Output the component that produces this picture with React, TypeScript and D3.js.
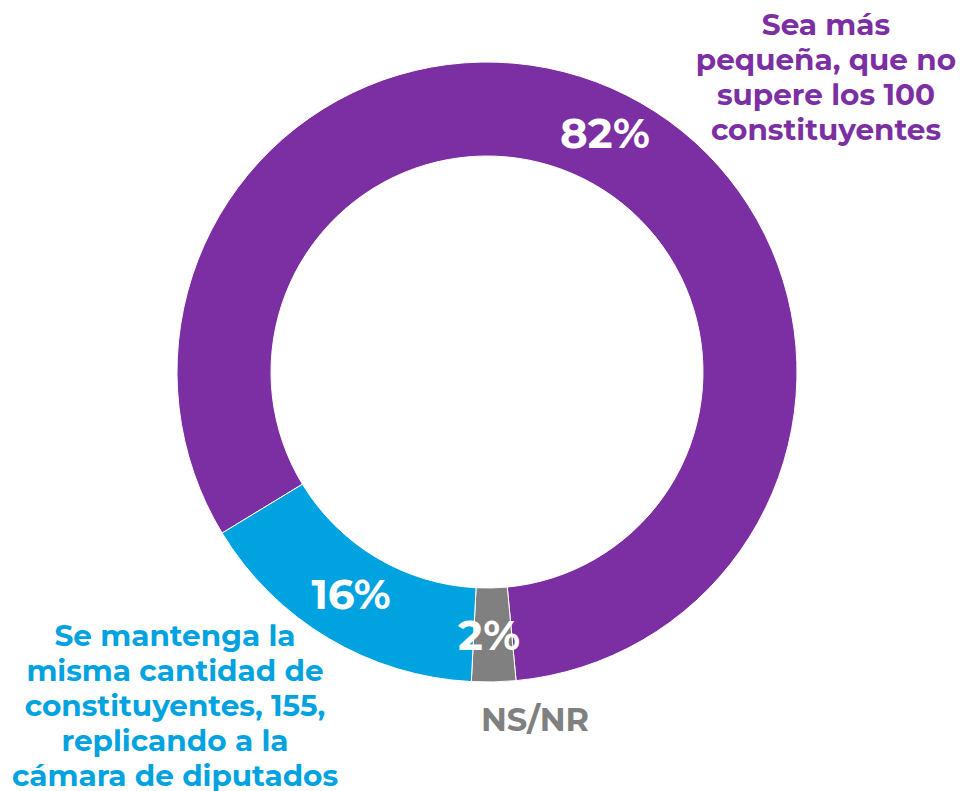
import React, { useEffect, useRef } from 'react';
import * as d3 from 'd3';

const categories = ['Sea más pequeña', 'NS/NR', 'Se mantenga'];
const values = [82.2, 2.3, 15.5];
const valueLabels = ['82%', '2%', '16%'];
const colors = ['#7c2fa3', '#808080', '#00a3e0'];
const purpleLines = ['Sea más', 'pequeña, que no', 'supere los 100', 'constituyentes'];
const blueLines = ['Se mantenga la', 'misma cantidad de', 'constituyentes, 155,', 'replicando a la', 'cámara de diputados'];

const width = 961;
const height = 791;
const FONT = "Montserrat, 'DejaVu Sans', sans-serif";

const App: React.FC = () => {
  const svgRef = useRef<SVGSVGElement>(null);

  useEffect(() => {
    if (!svgRef.current) return;
    const svg = d3.select(svgRef.current);
    svg.selectAll('*').remove();

    const cx = 487;
    const cy = 372;
    const outer = 310;
    const inner = 216;
    const start = (-121.3 * Math.PI) / 180;

    const pie = d3.pie<number>().sort(null).value(d => d)
      .startAngle(start).endAngle(start + 2 * Math.PI);
    const arc = d3.arc<d3.PieArcDatum<number>>().innerRadius(inner).outerRadius(outer);

    const g = svg.append('g').attr('transform', `translate(${cx},${cy})`);
    const arcs = pie(values);

    g.selectAll('.slice')
      .data(arcs)
      .enter()
      .append('path')
      .attr('class', 'slice')
      .attr('d', arc)
      .attr('fill', (_, i) => colors[i])
      .attr('stroke', '#fff')
      .attr('stroke-width', 1);

    // percentage labels on the ring
    const labelPos = [
      { x: 605, y: 148 },
      { x: 489, y: 650 },
      { x: 351, y: 609 },
    ];
    svg.selectAll('.pct')
      .data(arcs)
      .enter()
      .append('text')
      .attr('class', 'pct')
      .attr('x', (_, i) => labelPos[i].x)
      .attr('y', (_, i) => labelPos[i].y)
      .attr('text-anchor', 'middle')
      .attr('font-family', FONT)
      .attr('font-weight', 'bold')
      .attr('font-size', '42px')
      .attr('fill', '#fff')
      .text((_, i) => valueLabels[i]);

    // category labels
    const purple = svg.append('text')
      .attr('text-anchor', 'middle')
      .attr('font-family', FONT)
      .attr('font-weight', 'bold')
      .attr('font-size', '29.5px')
      .attr('fill', colors[0]);
    purpleLines.forEach((l, i) => {
      purple.append('tspan').attr('x', 826).attr('y', 35 + i * 35).text(l);
    });

    const blue = svg.append('text')
      .attr('text-anchor', 'middle')
      .attr('font-family', FONT)
      .attr('font-weight', 'bold')
      .attr('font-size', '29.5px')
      .attr('fill', colors[2]);
    blueLines.forEach((l, i) => {
      blue.append('tspan').attr('x', 175).attr('y', 646 + i * 35).text(l);
    });

    svg.append('text')
      .attr('x', 535)
      .attr('y', 731)
      .attr('text-anchor', 'middle')
      .attr('font-family', FONT)
      .attr('font-weight', 'bold')
      .attr('font-size', '32px')
      .attr('fill', colors[1])
      .text(categories[1]);
  }, []);

  return (
    <svg ref={svgRef} width={width} height={height} style={{ display: 'block', position: 'absolute', left: 0, top: 0 }} />
  );
};

export default App;
